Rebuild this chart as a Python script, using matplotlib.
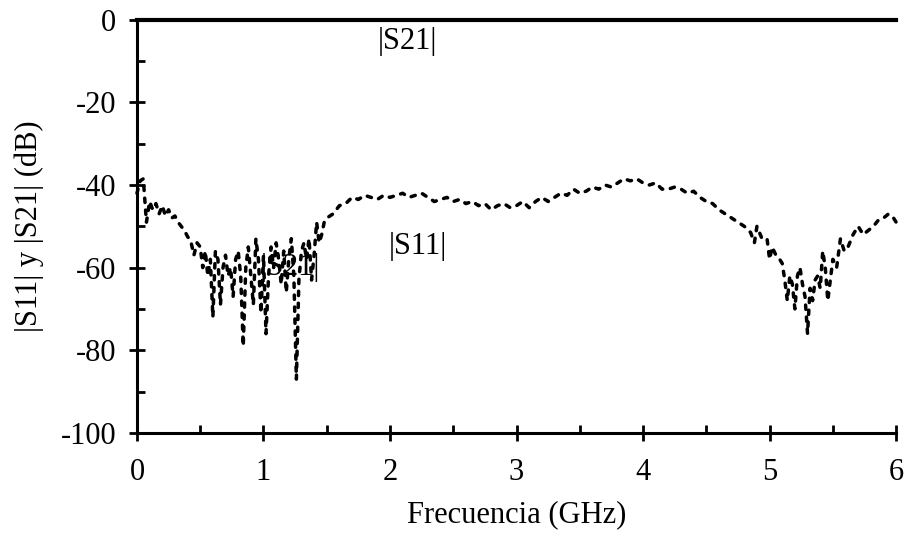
"""
|S11| and |S21| vs frequency
"""

import matplotlib
matplotlib.use('Agg')
import matplotlib.pyplot as plt
from matplotlib.ticker import MultipleLocator

# |S11| (GHz, dB)
s11_freq = [0.000, 0.025, 0.050, 0.075, 0.100, 0.125, 0.150, 0.175, 0.200, 0.225,
            0.250, 0.275, 0.300, 0.325, 0.350, 0.375, 0.400, 0.425, 0.450, 0.475,
            0.50, 0.52, 0.54, 0.56, 0.58, 0.60, 0.62, 0.64, 0.66, 0.68,
            0.70, 0.72, 0.74, 0.76, 0.78, 0.80, 0.82, 0.84, 0.86, 0.88,
            0.90, 0.92, 0.94, 0.96, 0.98, 1.00, 1.02, 1.04, 1.06, 1.08,
            1.10, 1.12, 1.14, 1.16, 1.18, 1.20, 1.22, 1.24, 1.26, 1.28,
            1.30, 1.32, 1.34, 1.36, 1.38, 1.40, 1.42, 1.44, 1.46, 1.48,
            1.50, 1.55, 1.60, 1.65, 1.70, 1.75, 1.80, 1.85, 1.90, 1.95,
            2.00, 2.05, 2.10, 2.15, 2.20, 2.25, 2.30, 2.35, 2.40, 2.45,
            2.50, 2.55, 2.60, 2.65, 2.70, 2.75, 2.80, 2.85, 2.90, 2.95,
            3.00, 3.05, 3.10, 3.15, 3.20, 3.25, 3.30, 3.35, 3.40, 3.45,
            3.50, 3.55, 3.60, 3.65, 3.70, 3.75, 3.80, 3.85, 3.90, 3.95,
            4.00, 4.05, 4.10, 4.15, 4.20, 4.25, 4.30, 4.35, 4.40, 4.45,
            4.50, 4.55, 4.60, 4.65, 4.70, 4.75, 4.80, 4.85, 4.88, 4.90,
            4.94, 4.98, 5.00, 5.02, 5.05, 5.08, 5.10, 5.12, 5.14, 5.16,
            5.18, 5.20, 5.22, 5.24, 5.26, 5.28, 5.30, 5.32, 5.34, 5.36,
            5.38, 5.40, 5.42, 5.44, 5.46, 5.48, 5.50, 5.53, 5.56, 5.59,
            5.62, 5.66, 5.70, 5.74, 5.78, 5.82, 5.86, 5.90, 5.94, 5.98,
            6.00]
s11_db = [-42, -39, -38.5, -49, -44, -46, -44.5, -47, -45, -47.5,
          -46, -48, -47.5, -49, -50, -51, -52.5, -53.5, -57, -54,
          -55, -60, -56, -62, -58, -72, -56, -58, -69, -60,
          -57, -62, -60, -67, -58, -56, -62, -79, -60, -55,
          -62, -69, -53, -58, -71, -57, -76, -62, -55, -60,
          -54, -58, -64, -56, -66, -58, -53, -62, -87, -63,
          -56, -54, -58, -53, -63, -57, -49, -54, -52, -49,
          -48, -47, -45, -44.5, -43, -43.5, -42.5, -43, -43.5, -42.5,
          -43, -42.5, -42, -43, -42.5, -42, -43, -44, -43.5, -43,
          -44, -43.5, -44.5, -44, -45, -44.5, -46, -45, -44.5, -45.5,
          -45, -44, -45.5, -44, -43, -44, -43, -42, -42.5, -41,
          -42, -41.5, -40.5, -41, -40, -40.5, -39.5, -38.5, -39, -38.5,
          -39.5, -40, -39.5, -41, -41, -40.5, -41, -42, -41.5, -43,
          -44, -44.5, -46, -47, -48, -49, -50, -51.5, -54, -50,
          -53, -53, -58, -55, -57, -58, -59, -63, -68, -62,
          -64, -70, -62, -60, -64, -67, -76, -65, -68, -63,
          -62, -65, -56, -60, -68, -63, -58, -60, -53, -56,
          -55, -52, -50, -52, -51, -50, -48.5, -48, -47, -48,
          -49]

# |S21| is flat at 0 dB
s21_freq = [0.0, 6.0]
s21_db = [0.0, 0.0]

x_ticks = [0, 1, 2, 3, 4, 5, 6]
y_ticks = [-100, -80, -60, -40, -20, 0]

plt.rcParams['font.family'] = ['Liberation Serif', 'DejaVu Serif']
plt.rcParams['axes.unicode_minus'] = False

fig = plt.figure(figsize=(9.07, 5.35), dpi=100)
ax = fig.add_axes([0.151, 0.191, 0.837, 0.772])

ax.plot(s21_freq, s21_db, color='black', linewidth=3.0, clip_on=False, zorder=3)
line, = ax.plot(s11_freq, s11_db, color='black', linewidth=2.5, clip_on=False)
line.set_dashes((1.25, 2.2))
line.set_dash_capstyle('round')

ax.text(2.14, -5.3, '|S21|', fontsize=22, ha='center', va='center')
ax.text(2.22, -55, '|S11|', fontsize=22, ha='center', va='center')
ax.text(1.21, -60, '|S21|', fontsize=22, ha='center', va='center')

ax.set_xlim(0, 6)
ax.set_ylim(-100, 0)
ax.set_xticks(x_ticks)
ax.set_yticks(y_ticks)
ax.xaxis.set_minor_locator(MultipleLocator(0.5))
ax.yaxis.set_minor_locator(MultipleLocator(10))

for side in ['top', 'right']:
    ax.spines[side].set_visible(False)
for side in ['left', 'bottom']:
    ax.spines[side].set_linewidth(2.2)

ax.tick_params(which='major', direction='inout', length=12, width=2.0, labelsize=22)
ax.tick_params(axis='x', which='major', pad=12)
ax.tick_params(axis='y', which='major', pad=9)
ax.tick_params(which='minor', direction='in', length=6, width=2.0)

ax.set_xlabel('Frecuencia (GHz)', fontsize=22, labelpad=10)
ax.set_ylabel('|S11| y |S21| (dB)', fontsize=22, labelpad=12)

fig.savefig('out.png', dpi=100)
